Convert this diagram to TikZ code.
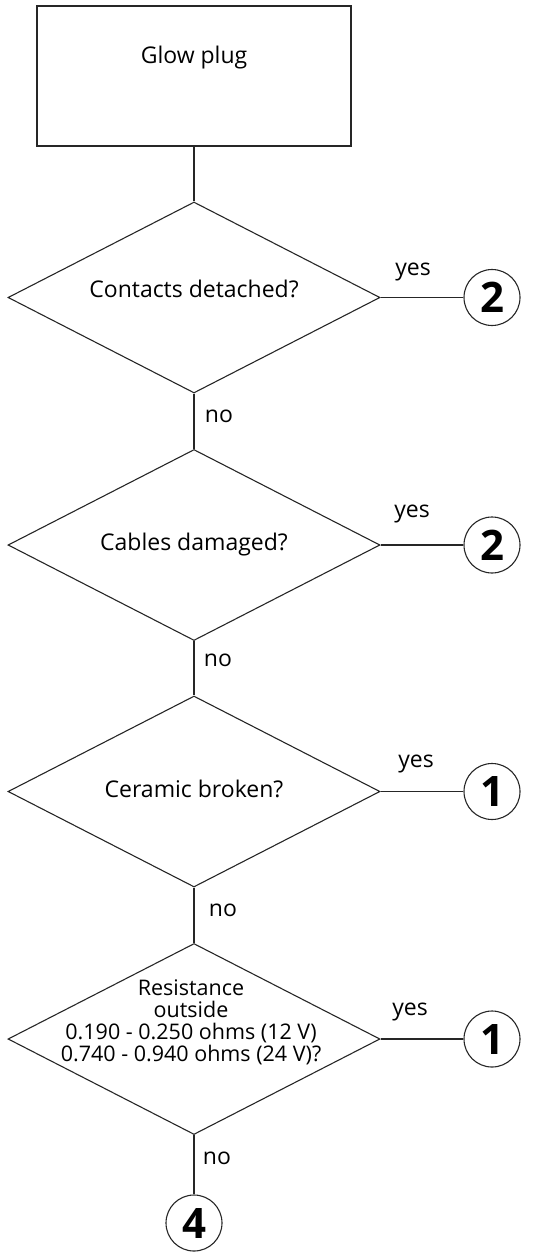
\documentclass[tikz,border=0pt]{standalone}
\usepackage{fontspec}
\setmainfont{Open Sans}
\usetikzlibrary{shapes.geometric}
\begin{document}
\begin{tikzpicture}[x=1pt,y=-1pt,
  line width=1.1pt,
  startbox/.style={draw=black!85, rectangle, minimum width=314pt, minimum height=140pt, inner sep=0pt},
  dia/.style={draw=black!85, diamond, minimum width=372pt, minimum height=191pt, inner sep=0pt},
  txt/.style={font=\fontsize{23}{26}\selectfont, align=center, inner sep=0pt},
  lbl/.style={font=\fontsize{23}{26}\selectfont, inner sep=0pt},
  conn/.style={draw=black!85, circle, minimum size=56pt, inner sep=0pt, font=\fontsize{42}{42}\selectfont\bfseries},
  link/.style={draw=black!85}
]
\useasboundingbox (0,0) rectangle (541,1258);
% start box
\node[startbox] (box) at (194,76) {};
\node[txt] (boxt) at (194,58) {Glow plug};
% decisions
\node[dia] (d1) at (194,297.5) {};
\node[txt, anchor=base] (t1) at (194,297) {Contacts detached?};
\node[dia] (d2) at (194,545) {};
\node[txt, anchor=base] (t2) at (194,550) {Cables damaged?};
\node[dia] (d3) at (194,791.5) {};
\node[txt, anchor=base] (t3) at (194,797) {Ceramic broken?};
\node[dia] (d4) at (194,1039) {};
\node[txt, font=\fontsize{21.5}{22}\selectfont] (t4) at (191,1022) {Resistance\\outside\\0.190 - 0.250 ohms (12 V)\\0.740 - 0.940 ohms (24 V)?};
% connectors
\node[conn] (c1) at (492,297.5) {2};
\node[conn] (c2) at (492,545) {2};
\node[conn] (c3) at (492,791.5) {1};
\node[conn] (c4) at (492,1039) {1};
\node[conn] (c5) at (194,1223) {4};
% lines
\draw[link] (box.south) -- (d1.north);
\draw[link] (d1.south) -- (d2.north);
\draw[link] (d2.south) -- (d3.north);
\draw[link] (d3.south) -- (d4.north);
\draw[link] (d4.south) -- (c5.north);
\draw[link] (d1.east) -- (c1.west);
\draw[link] (d2.east) -- (c2.west);
\draw[link] (d3.east) -- (c3.west);
\draw[link] (d4.east) -- (c4.west);
% labels
\node[lbl] (y1) at (413,272) {yes};
\node[lbl] (y2) at (412,514) {yes};
\node[lbl] (y3) at (416,764) {yes};
\node[lbl] (y4) at (410,1012) {yes};
\node[lbl] (n1) at (219,416) {no};
\node[lbl] (n2) at (218,660) {no};
\node[lbl] (n3) at (223,910) {no};
\node[lbl] (n4) at (217,1158) {no};
\end{tikzpicture}
\end{document}
